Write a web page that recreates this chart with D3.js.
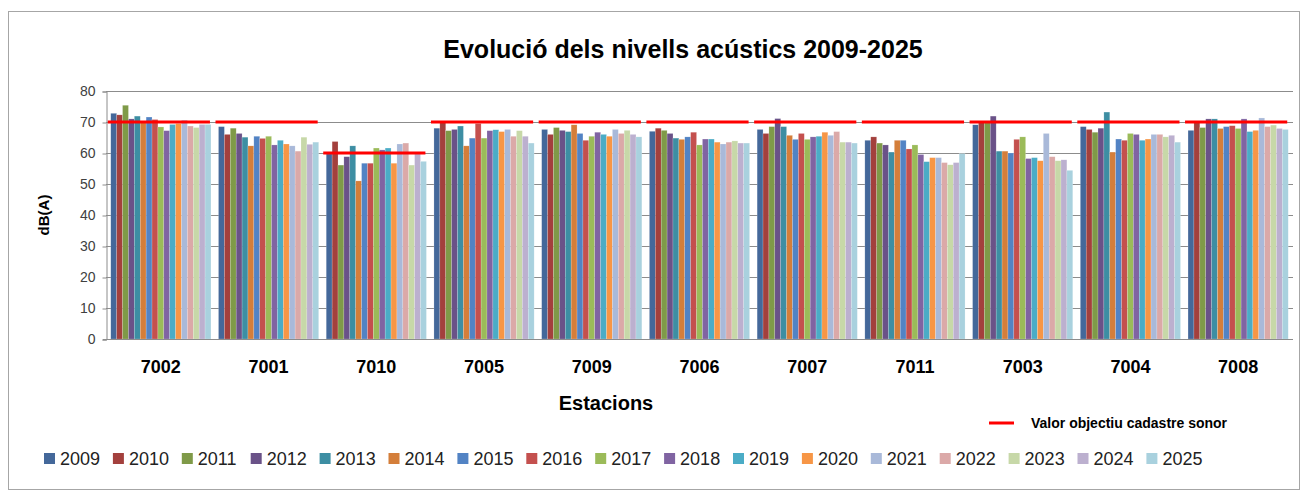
<!DOCTYPE html>
<html>
<head>
<meta charset="utf-8">
<script src="https://cdn.jsdelivr.net/npm/d3@7"></script>
<style>
  body { margin: 0; background: #fff; }
  text { font-family: "Liberation Sans", Arial, sans-serif; }
</style>
</head>
<body>
<div id="chart"></div>
<script>
// stations (x categories) in the order shown
var stations = ["7002", "7001", "7010", "7005", "7009", "7006", "7007", "7011", "7003", "7004", "7008"]
var years = ["2009", "2010", "2011", "2012", "2013", "2014", "2015", "2016", "2017",
    "2018", "2019", "2020", "2021", "2022", "2023", "2024", "2025"]

// dB(A) per station, one value per year 2009..2025
var v7002 = [72.8, 72.3, 75.4, 71.0, 71.9, 69.8, 71.6, 70.8, 68.4, 67.2, 69.2, 69.5, 70.6, 68.7, 68.2, 69.2, 69.2]
var v7001 = [68.5, 66.0, 68.0, 66.3, 65.1, 62.3, 65.4, 64.7, 65.4, 62.6, 64.1, 62.9, 62.3, 60.6, 65.1, 62.8, 63.5]
var v7010 = [59.7, 63.7, 56.1, 58.8, 62.3, 51.0, 56.7, 56.7, 61.6, 61.0, 61.6, 56.7, 62.9, 63.2, 56.1, 59.7, 57.3]
var v7005 = [68.0, 70.0, 67.2, 67.6, 68.7, 62.3, 64.8, 69.5, 64.8, 67.2, 67.5, 66.9, 67.6, 65.4, 67.2, 65.4, 63.2]
var v7009 = [67.6, 66.0, 68.2, 67.3, 66.9, 69.1, 66.3, 64.1, 65.4, 66.7, 66.0, 65.4, 67.6, 66.3, 67.3, 66.0, 65.2]
var v7006 = [67.0, 68.0, 67.3, 66.3, 64.8, 64.4, 65.2, 66.7, 62.6, 64.5, 64.5, 63.5, 62.9, 63.5, 63.9, 63.2, 63.2]
var v7007 = [67.6, 66.3, 68.5, 71.1, 68.5, 65.7, 64.4, 66.3, 64.4, 65.2, 65.4, 66.7, 65.7, 66.9, 63.5, 63.5, 63.2]
var v7011 = [64.1, 65.2, 63.2, 62.6, 60.3, 64.1, 64.1, 61.3, 62.6, 59.5, 57.2, 58.5, 58.5, 56.9, 56.2, 56.9, 59.8]
var v7003 = [69.1, 70.0, 70.0, 71.9, 60.6, 60.6, 60.0, 64.4, 65.2, 58.2, 58.5, 57.5, 66.3, 58.8, 57.5, 57.8, 54.4]
var v7004 = [68.5, 67.6, 66.7, 68.0, 73.2, 60.3, 64.5, 64.1, 66.3, 66.0, 64.1, 64.5, 66.0, 66.0, 65.2, 65.7, 63.5]
var v7008 = [67.3, 70.0, 68.2, 71.0, 71.0, 67.9, 68.5, 68.8, 67.9, 71.0, 66.9, 67.3, 71.3, 68.5, 69.0, 67.9, 67.6]

// Valor objectiu cadastre sonor per station
var targets = [70, 70, 60, 70, 70, 70, 70, 70, 70, 70, 70]

var yTicks = [0, 10, 20, 30, 40, 50, 60, 70, 80]

var colors = ["#44689a", "#a3403d", "#7f9a48", "#6a5288", "#3d8ea3", "#d47e3a", "#5283c4", "#c4504e",
    "#9bbb59", "#8064a2", "#4bacc6", "#f79646", "#a9b9d9", "#dba9a8", "#c7d8a8", "#bcb0cf", "#a9d1de"]

var values = [v7002, v7001, v7010, v7005, v7009, v7006, v7007, v7011, v7003, v7004, v7008]

var width = 1303, height = 492

var svg = d3.select("#chart")
    .append("svg")
    .attr("width", width)
    .attr("height", height)

// chart border
svg.append("rect")
    .attr("x", 8.5).attr("y", 11.5)
    .attr("width", 1291).attr("height", 478)
    .attr("fill", "none")
    .attr("stroke", "#a6a6a6")

var plotLeft = 106, plotRight = 1293

var x0 = d3.scaleBand()
    .domain(stations)
    .range([107, 1292])
    .paddingInner(0.07)
    .paddingOuter(0.035)

var x1 = d3.scaleBand()
    .domain(years)
    .range([0, x0.bandwidth()])

var y = d3.scaleLinear()
    .domain([0, 80])
    .range([339, 91])

// gridlines
svg.append("g")
    .selectAll("line")
    .data(yTicks.slice(1))
    .enter()
    .append("line")
    .attr("x1", plotLeft).attr("x2", plotRight)
    .attr("y1", function (d) { return Math.round(y(d)) + 0.5 })
    .attr("y2", function (d) { return Math.round(y(d)) + 0.5 })
    .attr("stroke", "#8c8c8c")

// y axis
var yAxis = svg.append("g")
    .attr("transform", "translate(" + (plotLeft + 0.5) + ",0.5)")
    .call(d3.axisLeft(y).tickValues(yTicks).tickSize(4).tickPadding(7))
yAxis.select(".domain").attr("stroke", "#8c8c8c")
yAxis.selectAll(".tick line").attr("stroke", "#8c8c8c")
yAxis.selectAll(".tick text")
    .attr("fill", "#404040")
    .style("font-size", "14px")
    .style("font-family", "Liberation Sans, Arial, sans-serif")

// bars
var groups = svg.append("g")
    .selectAll("g")
    .data(stations)
    .enter()
    .append("g")
    .attr("transform", function (d) { return "translate(" + x0(d) + ",0)" })

groups.selectAll("rect")
    .data(function (d, i) { return values[i].map(function (v, j) { return { year: years[j], value: v } }) })
    .enter()
    .append("rect")
    .attr("x", function (d) { return x1(d.year) })
    .attr("width", x1.bandwidth())
    .attr("y", function (d) { return y(d.value) })
    .attr("height", function (d) { return y(0) - y(d.value) })
    .attr("fill", function (d, i) { return colors[i] })
    .attr("stroke", "#ffffff")
    .attr("stroke-opacity", 0.35)
    .attr("stroke-width", 0.5)

// x axis line
svg.append("line")
    .attr("x1", 103).attr("x2", plotRight)
    .attr("y1", 339.5).attr("y2", 339.5)
    .attr("stroke", "#8c8c8c")

// target lines
svg.append("g")
    .selectAll("line")
    .data(stations)
    .enter()
    .append("line")
    .attr("x1", function (d) { return x0(d) - 3 })
    .attr("x2", function (d) { return x0(d) + x0.bandwidth() - 1 })
    .attr("y1", function (d, i) { return y(targets[i]) })
    .attr("y2", function (d, i) { return y(targets[i]) })
    .attr("stroke", "#ff0000")
    .attr("stroke-width", 3)

// station labels
svg.append("g")
    .selectAll("text")
    .data(stations)
    .enter()
    .append("text")
    .attr("x", function (d) { return x0(d) + x0.bandwidth() / 2 })
    .attr("y", 373)
    .attr("text-anchor", "middle")
    .style("font-size", "18px")
    .style("font-weight", "bold")
    .attr("fill", "#000")
    .text(function (d) { return d })

// title
svg.append("text")
    .attr("x", 683)
    .attr("y", 58)
    .attr("text-anchor", "middle")
    .style("font-size", "25px")
    .style("font-weight", "bold")
    .text("Evolució dels nivells acústics 2009-2025")

// axis titles
svg.append("text")
    .attr("x", 606)
    .attr("y", 410)
    .attr("text-anchor", "middle")
    .style("font-size", "20px")
    .style("font-weight", "bold")
    .text("Estacions")

svg.append("text")
    .attr("transform", "translate(49,215) rotate(-90)")
    .attr("text-anchor", "middle")
    .style("font-size", "15px")
    .style("font-weight", "bold")
    .text("dB(A)")

// legend: target line
svg.append("line")
    .attr("x1", 989).attr("x2", 1014)
    .attr("y1", 423).attr("y2", 423)
    .attr("stroke", "#ff0000")
    .attr("stroke-width", 3)
svg.append("text")
    .attr("x", 1031)
    .attr("y", 428)
    .style("font-size", "14px")
    .style("font-weight", "bold")
    .text("Valor objectiu cadastre sonor")

// legend: years
var size = 11
var legend = svg.append("g")
legend.selectAll("rect")
    .data(years)
    .enter()
    .append("rect")
    .attr("x", function (d, i) { return 44 + i * 68.9 })
    .attr("y", 453)
    .attr("width", size)
    .attr("height", size)
    .attr("fill", function (d, i) { return colors[i] })
legend.selectAll("text")
    .data(years)
    .enter()
    .append("text")
    .attr("x", function (d, i) { return 60 + i * 68.9 })
    .attr("y", 465)
    .style("font-size", "18px")
    .attr("fill", "#222")
    .text(function (d) { return d })
</script>
</body>
</html>
